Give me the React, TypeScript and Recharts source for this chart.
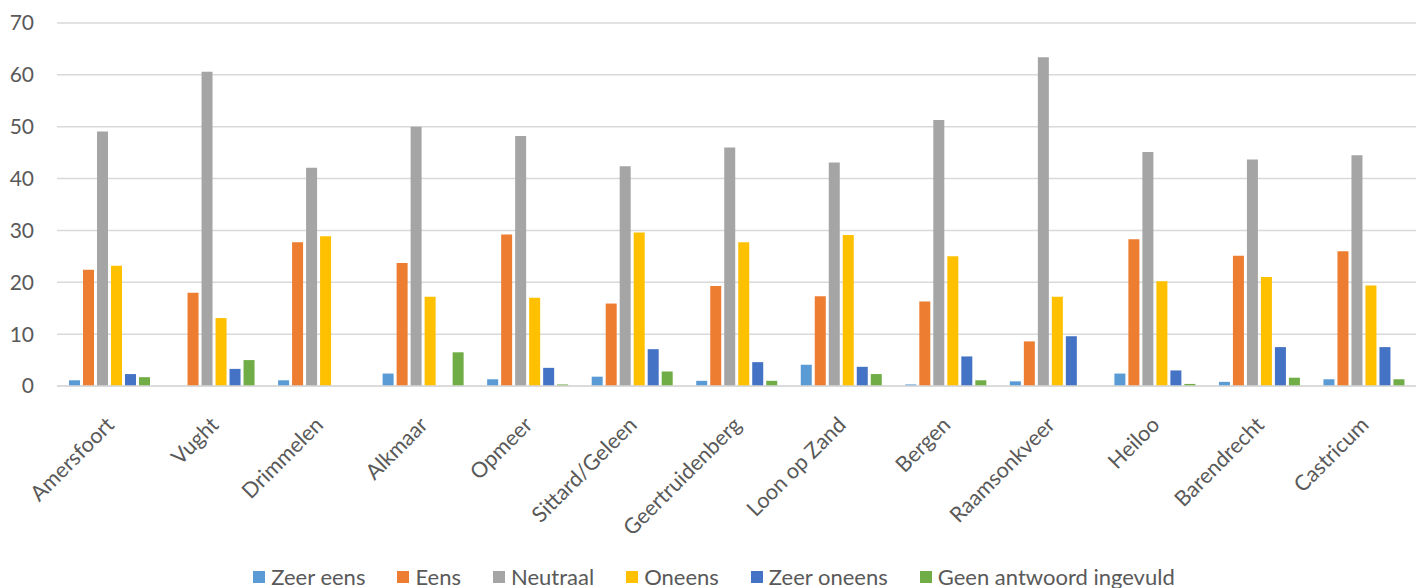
import React from 'react';
import { BarChart, Bar, XAxis, YAxis, CartesianGrid, Legend } from 'recharts';

const gemeenten = [
  'Amersfoort', 'Vught', 'Drimmelen', 'Alkmaar', 'Opmeer', 'Sittard/Geleen', 'Geertruidenberg',
  'Loon op Zand', 'Bergen', 'Raamsonkveer', 'Heiloo', 'Barendrecht', 'Castricum',
];

const zeerEens = [1.1, 0, 1.1, 2.4, 1.3, 1.8, 1.0, 4.1, 0.3, 0.9, 2.4, 0.8, 1.3];
const eens = [22.4, 18.0, 27.7, 23.7, 29.2, 15.9, 19.3, 17.3, 16.3, 8.6, 28.3, 25.1, 26.0];
const neutraal = [49.1, 60.6, 42.1, 50.0, 48.2, 42.4, 46.0, 43.1, 51.3, 63.4, 45.1, 43.7, 44.5];
const oneens = [23.2, 13.1, 28.9, 17.2, 17.0, 29.6, 27.7, 29.1, 25.0, 17.2, 20.2, 21.0, 19.4];
const zeerOneens = [2.3, 3.3, 0, 0, 3.5, 7.1, 4.6, 3.7, 5.7, 9.6, 3.0, 7.5, 7.5];
const geenAntwoord = [1.7, 5.0, 0, 6.5, 0.3, 2.8, 1.0, 2.3, 1.1, 0, 0.4, 1.6, 1.3];

const yTicks = [0, 10, 20, 30, 40, 50, 60, 70];

const series = [
  { key: 'zeerEens', name: 'Zeer eens', color: '#5B9BD5', values: zeerEens },
  { key: 'eens', name: 'Eens', color: '#ED7D31', values: eens },
  { key: 'neutraal', name: 'Neutraal', color: '#A5A5A5', values: neutraal },
  { key: 'oneens', name: 'Oneens', color: '#FFC000', values: oneens },
  { key: 'zeerOneens', name: 'Zeer oneens', color: '#4472C4', values: zeerOneens },
  { key: 'geen', name: 'Geen antwoord ingevuld', color: '#70AD47', values: geenAntwoord },
];

const data = gemeenten.map((name, i) => {
  const row: Record<string, string | number> = { name };
  series.forEach((s) => { row[s.key] = s.values[i]; });
  return row;
});

const FONT = 'Lato, "Open Sans", sans-serif';

const AngledTick = (props: any) => {
  const { x, y, payload } = props;
  return (
    <g transform={`translate(${x + 2},${y + 28})`}>
      <text
        x={0}
        y={0}
        dy={6}
        textAnchor="end"
        transform="rotate(-45)"
        fill="#595959"
        fontSize={21.5}
        fontFamily={FONT}
      >
        {payload.value}
      </text>
    </g>
  );
};

const LegendRow = () => (
  <div style={{ position: 'relative', top: 4, left: 6, display: 'flex', justifyContent: 'center', gap: 32, fontFamily: FONT, fontSize: 22, color: '#595959', lineHeight: '30px' }}>
    {series.map((s) => (
      <div key={s.key} style={{ display: 'flex', alignItems: 'center' }}>
        <span style={{ width: 12, height: 12, background: s.color, display: 'inline-block', marginRight: 6 }} />
        <span>{s.name}</span>
      </div>
    ))}
  </div>
);

export default function App() {
  return (
    <div style={{ position: 'absolute', left: 0, top: 0, width: 1416, height: 588, background: '#fff' }}>
      <BarChart
        width={1416}
        height={588}
        data={data}
        margin={{ top: 23, right: 0, left: 0, bottom: 0 }}
        barSize={11}
        barGap={3}
      >
        <CartesianGrid vertical={false} stroke="#D9D9D9" strokeWidth={1.5} />
        <XAxis
          dataKey="name"
          interval={0}
          tick={<AngledTick />}
          tickLine={false}
          axisLine={{ stroke: '#D9D9D9', strokeWidth: 1.5 }}
          height={172}
        />
        <YAxis
          domain={[0, 70]}
          ticks={yTicks}
          width={57}
          axisLine={false}
          tickLine={false}
          tickSize={0}
          tickMargin={23}
          tick={{ fill: '#595959', fontSize: 21, fontFamily: FONT }}
        />
        <Legend verticalAlign="bottom" height={30} content={<LegendRow />} />
        {series.map((s) => (
          <Bar key={s.key} dataKey={s.key} name={s.name} fill={s.color} isAnimationActive={false} />
        ))}
      </BarChart>
    </div>
  );
}
